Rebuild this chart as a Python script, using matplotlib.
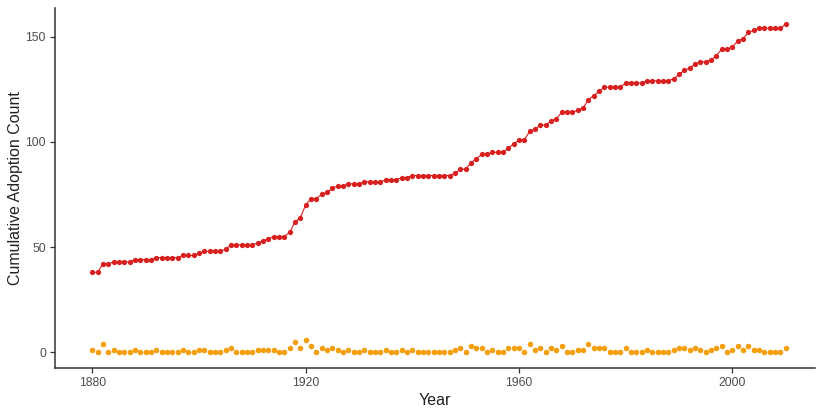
import numpy as np
import matplotlib
matplotlib.use("Agg")
import matplotlib.pyplot as plt

plt.rcParams['font.family'] = ['Liberation Sans', 'DejaVu Sans']

years = list(range(1880, 2011))

# cumulative number of adoptions per year
cumulative = [
    38, 38, 42, 42, 43, 43, 43, 43, 44, 44,   # 1880s
    44, 44, 45, 45, 45, 45, 45, 46, 46, 46,   # 1890s
    47, 48, 48, 48, 48, 49, 51, 51, 51, 51,   # 1900s
    51, 52, 53, 54, 55, 55, 55, 57, 62, 64,   # 1910s
    70, 73, 73, 75, 76, 78, 79, 79, 80, 80,   # 1920s
    80, 81, 81, 81, 81, 82, 82, 82, 83, 83,   # 1930s
    84, 84, 84, 84, 84, 84, 84, 84, 85, 87,   # 1940s
    87, 90, 92, 94, 94, 95, 95, 95, 97, 99,   # 1950s
    101, 101, 105, 106, 108, 108, 110, 111, 114, 114,  # 1960s
    114, 115, 116, 120, 122, 124, 126, 126, 126, 126,  # 1970s
    128, 128, 128, 128, 129, 129, 129, 129, 129, 130,  # 1980s
    132, 134, 135, 137, 138, 138, 139, 141, 144, 144,  # 1990s
    145, 148, 149, 152, 153, 154, 154, 154, 154, 154,  # 2000s
    156,
]

# new adoptions in each year
annual = [
    1, 0, 4, 0, 1, 0, 0, 0, 1, 0,
    0, 0, 1, 0, 0, 0, 0, 1, 0, 0,
    1, 1, 0, 0, 0, 1, 2, 0, 0, 0,
    0, 1, 1, 1, 1, 0, 0, 2, 5, 2,
    6, 3, 0, 2, 1, 2, 1, 0, 1, 0,
    0, 1, 0, 0, 0, 1, 0, 0, 1, 0,
    1, 0, 0, 0, 0, 0, 0, 0, 1, 2,
    0, 3, 2, 2, 0, 1, 0, 0, 2, 2,
    2, 0, 4, 1, 2, 0, 2, 1, 3, 0,
    0, 1, 1, 4, 2, 2, 2, 0, 0, 0,
    2, 0, 0, 0, 1, 0, 0, 0, 0, 1,
    2, 2, 1, 2, 1, 0, 1, 2, 3, 0,
    1, 3, 1, 3, 1, 1, 0, 0, 0, 0,
    2,
]

x_ticks = [1880, 1920, 1960, 2000]
y_ticks = [0, 50, 100, 150]

red = "#D92020"
orange = "#F4A00E"

fig = plt.figure(figsize=(8.2, 4.09), dpi=100)
ax = fig.add_axes([0.067, 0.1, 0.927, 0.88])

ax.plot(years, cumulative, color=red, linewidth=0.8, marker="o",
        markersize=3.8, markeredgewidth=0, zorder=3)
ax.scatter(years, annual, s=16, color=orange, linewidths=0, zorder=2)

ax.set_xlim(1873, 2015.5)
ax.set_ylim(-7.5, 163.5)
ax.set_xticks(x_ticks)
ax.set_yticks(y_ticks)

for side in ("top", "right"):
    ax.spines[side].set_visible(False)
for side in ("left", "bottom"):
    ax.spines[side].set_color("#333333")
    ax.spines[side].set_linewidth(1.1)

ax.tick_params(axis="both", direction="out", length=3.5, width=0.9,
               color="#333333", labelcolor="#4d4d4d", labelsize=8.8, pad=3)

ax.set_xlabel("Year", fontsize=11.5, color="#222222", labelpad=3)
ax.set_ylabel("Cumulative Adoption Count", fontsize=11.5, color="#222222", labelpad=2)

fig.savefig("out.png", dpi=100)
